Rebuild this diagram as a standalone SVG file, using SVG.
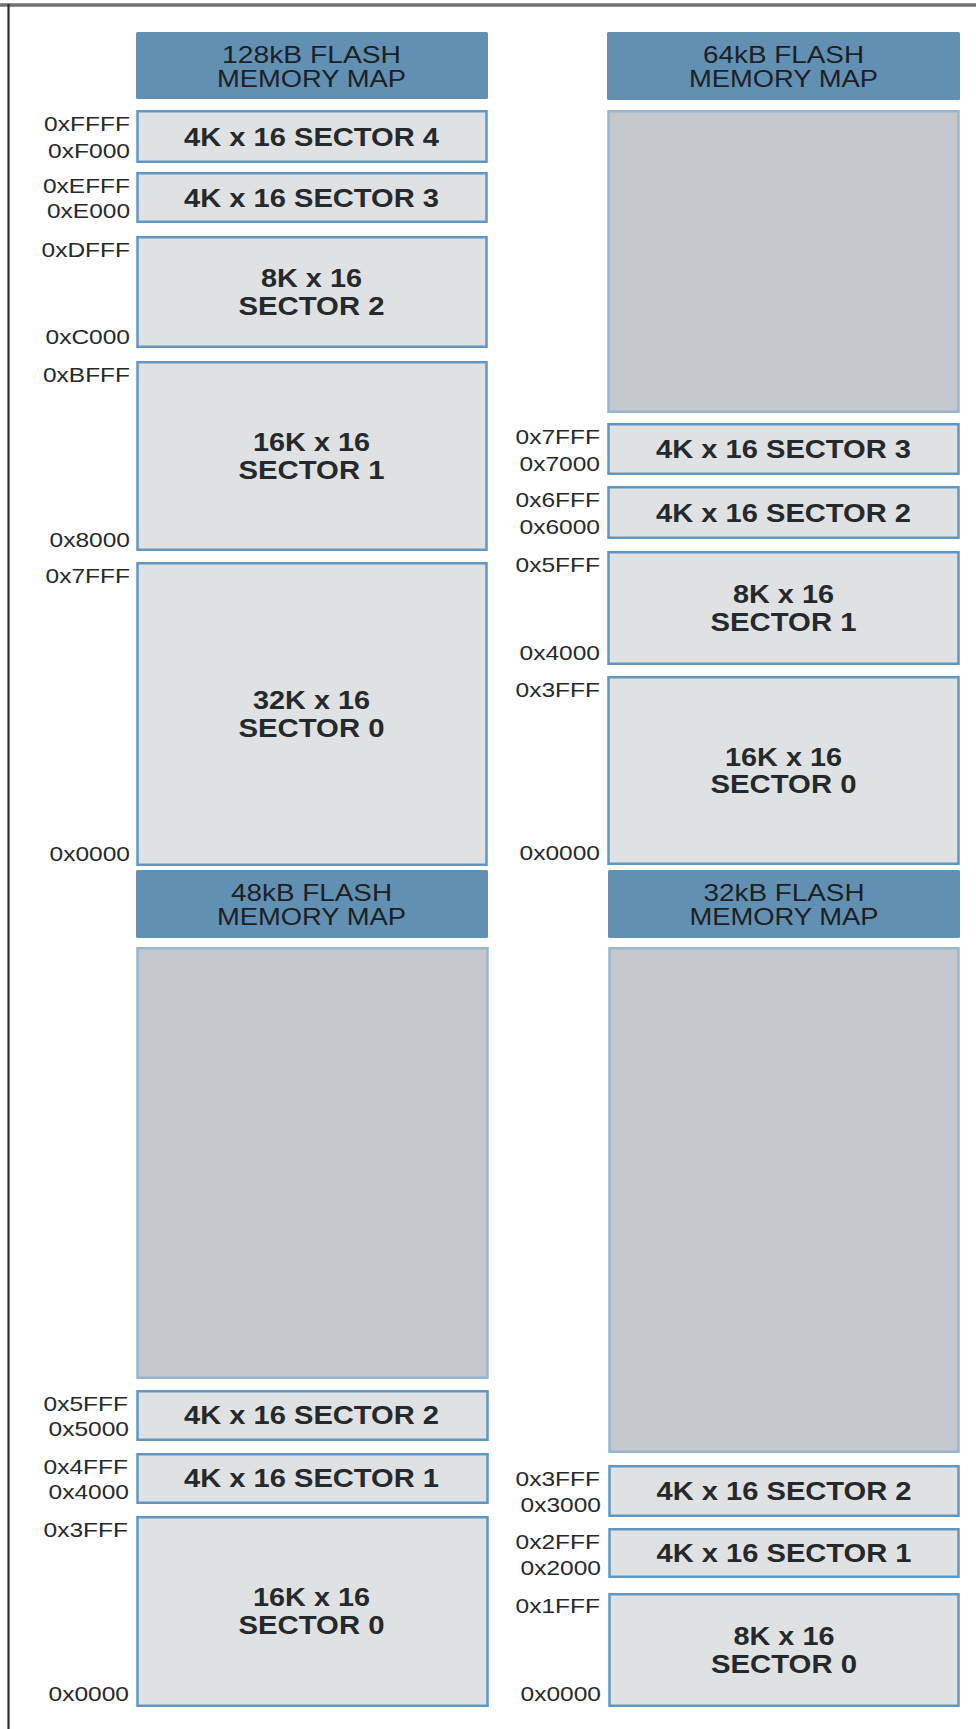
<svg xmlns="http://www.w3.org/2000/svg" width="976" height="1729" viewBox="0 0 976 1729">
<style>
  text { font-family: "Liberation Sans", Arial, Helvetica, sans-serif; fill: #26292c; }
  .hdr { fill: #6190b2; }
  .ht { font-size: 24px; text-anchor: middle; fill: #1c2126; }
  .sec { fill: #e0e1e3; stroke: #5f97c2; stroke-width: 2.5; }
  .res { fill: #c4c7cb; stroke: #97b7d1; stroke-width: 2.5; }
  .st { font-size: 25px; font-weight: bold; text-anchor: middle; }
  .ad { font-size: 21px; text-anchor: end; }
</style>
<rect width="976" height="1729" fill="#ffffff"/>
<g id="frame">
  <line x1="0" y1="5" x2="976" y2="5" stroke="#727272" stroke-width="3.5"/>
  <line x1="8.5" y1="4" x2="8.5" y2="1729" stroke="#303030" stroke-width="2.2"/>
</g>
<g id="connectors"/>

<!-- 128kB map -->
<g id="hdr128">
  <rect class="hdr" x="136" y="32" width="352" height="67" rx="1.5"/>
  <text class="ht" x="311.5" y="62.5" textLength="179" lengthAdjust="spacingAndGlyphs">128kB FLASH</text>
  <text class="ht" x="311.5" y="86.5" textLength="189" lengthAdjust="spacingAndGlyphs">MEMORY MAP</text>
</g>
<g id="m128_s4">
  <rect class="sec" x="137.5" y="111.25" width="349" height="50.5"/>
  <text class="st" x="311.5" y="145.5" textLength="255" lengthAdjust="spacingAndGlyphs">4K x 16 SECTOR 4</text>
  <text class="ad" x="130" y="130.5" textLength="86" lengthAdjust="spacingAndGlyphs">0xFFFF</text>
  <text class="ad" x="130" y="158" textLength="82" lengthAdjust="spacingAndGlyphs">0xF000</text>
</g>
<g id="m128_s3">
  <rect class="sec" x="137.5" y="173.25" width="349" height="48.5"/>
  <text class="st" x="311.5" y="206.5" textLength="255" lengthAdjust="spacingAndGlyphs">4K x 16 SECTOR 3</text>
  <text class="ad" x="130" y="192.5" textLength="87" lengthAdjust="spacingAndGlyphs">0xEFFF</text>
  <text class="ad" x="130" y="218" textLength="83" lengthAdjust="spacingAndGlyphs">0xE000</text>
</g>
<g id="m128_s2">
  <rect class="sec" x="137.5" y="237.25" width="349" height="109.5"/>
  <text class="st" x="311.5" y="287" textLength="101" lengthAdjust="spacingAndGlyphs">8K x 16</text>
  <text class="st" x="311.5" y="314.5" textLength="146" lengthAdjust="spacingAndGlyphs">SECTOR 2</text>
  <text class="ad" x="130" y="256.5" textLength="88.5" lengthAdjust="spacingAndGlyphs">0xDFFF</text>
  <text class="ad" x="130" y="344" textLength="84.5" lengthAdjust="spacingAndGlyphs">0xC000</text>
</g>
<g id="m128_s1">
  <rect class="sec" x="137.5" y="362.25" width="349" height="187.5"/>
  <text class="st" x="311.5" y="451" textLength="117" lengthAdjust="spacingAndGlyphs">16K x 16</text>
  <text class="st" x="311.5" y="478.5" textLength="146" lengthAdjust="spacingAndGlyphs">SECTOR 1</text>
  <text class="ad" x="130" y="381.5" textLength="87" lengthAdjust="spacingAndGlyphs">0xBFFF</text>
  <text class="ad" x="130" y="546.5" textLength="80.5" lengthAdjust="spacingAndGlyphs">0x8000</text>
</g>
<g id="m128_s0">
  <rect class="sec" x="137.5" y="563.25" width="349" height="301.5"/>
  <text class="st" x="311.5" y="709" textLength="117" lengthAdjust="spacingAndGlyphs">32K x 16</text>
  <text class="st" x="311.5" y="736.5" textLength="146" lengthAdjust="spacingAndGlyphs">SECTOR 0</text>
  <text class="ad" x="130" y="582.5" textLength="84.5" lengthAdjust="spacingAndGlyphs">0x7FFF</text>
  <text class="ad" x="130" y="860.5" textLength="80.5" lengthAdjust="spacingAndGlyphs">0x0000</text>
</g>

<!-- 64kB map -->
<g id="hdr64">
  <rect class="hdr" x="607" y="32" width="353" height="68" rx="1.5"/>
  <text class="ht" x="783.5" y="62.5" textLength="161" lengthAdjust="spacingAndGlyphs">64kB FLASH</text>
  <text class="ht" x="783.5" y="86.5" textLength="189" lengthAdjust="spacingAndGlyphs">MEMORY MAP</text>
</g>
<g id="m64_res">
  <rect class="res" x="608.5" y="111.25" width="350" height="300.5"/>
</g>
<g id="m64_s3">
  <rect class="sec" x="608.5" y="424.25" width="350" height="49.5"/>
  <text class="st" x="783.5" y="458" textLength="255" lengthAdjust="spacingAndGlyphs">4K x 16 SECTOR 3</text>
  <text class="ad" x="600" y="443.5" textLength="84.5" lengthAdjust="spacingAndGlyphs">0x7FFF</text>
  <text class="ad" x="600" y="470.5" textLength="80.5" lengthAdjust="spacingAndGlyphs">0x7000</text>
</g>
<g id="m64_s2">
  <rect class="sec" x="608.5" y="487.25" width="350" height="50.5"/>
  <text class="st" x="783.5" y="521.5" textLength="255" lengthAdjust="spacingAndGlyphs">4K x 16 SECTOR 2</text>
  <text class="ad" x="600" y="506.5" textLength="84.5" lengthAdjust="spacingAndGlyphs">0x6FFF</text>
  <text class="ad" x="600" y="534" textLength="80.5" lengthAdjust="spacingAndGlyphs">0x6000</text>
</g>
<g id="m64_s1">
  <rect class="sec" x="608.5" y="552.25" width="350" height="111.5"/>
  <text class="st" x="783.5" y="603" textLength="101" lengthAdjust="spacingAndGlyphs">8K x 16</text>
  <text class="st" x="783.5" y="630.5" textLength="146" lengthAdjust="spacingAndGlyphs">SECTOR 1</text>
  <text class="ad" x="600" y="571.5" textLength="84.5" lengthAdjust="spacingAndGlyphs">0x5FFF</text>
  <text class="ad" x="600" y="659.5" textLength="80.5" lengthAdjust="spacingAndGlyphs">0x4000</text>
</g>
<g id="m64_s0">
  <rect class="sec" x="608.5" y="677.25" width="350" height="186.5"/>
  <text class="st" x="783.5" y="765.5" textLength="117" lengthAdjust="spacingAndGlyphs">16K x 16</text>
  <text class="st" x="783.5" y="793" textLength="146" lengthAdjust="spacingAndGlyphs">SECTOR 0</text>
  <text class="ad" x="600" y="696.5" textLength="84.5" lengthAdjust="spacingAndGlyphs">0x3FFF</text>
  <text class="ad" x="600" y="860" textLength="80.5" lengthAdjust="spacingAndGlyphs">0x0000</text>
</g>

<!-- 48kB map -->
<g id="hdr48">
  <rect class="hdr" x="136" y="870" width="352" height="68" rx="1.5"/>
  <text class="ht" x="311.5" y="900.5" textLength="161" lengthAdjust="spacingAndGlyphs">48kB FLASH</text>
  <text class="ht" x="311.5" y="924.5" textLength="189" lengthAdjust="spacingAndGlyphs">MEMORY MAP</text>
</g>
<g id="m48_res">
  <rect class="res" x="137.5" y="948.25" width="350" height="429.5"/>
</g>
<g id="m48_s2">
  <rect class="sec" x="137.5" y="1391.25" width="350" height="48.5"/>
  <text class="st" x="311.5" y="1424" textLength="255" lengthAdjust="spacingAndGlyphs">4K x 16 SECTOR 2</text>
  <text class="ad" x="128" y="1411" textLength="84.5" lengthAdjust="spacingAndGlyphs">0x5FFF</text>
  <text class="ad" x="129" y="1435.5" textLength="80.5" lengthAdjust="spacingAndGlyphs">0x5000</text>
</g>
<g id="m48_s1">
  <rect class="sec" x="137.5" y="1454.25" width="350" height="48.5"/>
  <text class="st" x="311.5" y="1487" textLength="255" lengthAdjust="spacingAndGlyphs">4K x 16 SECTOR 1</text>
  <text class="ad" x="128" y="1473.5" textLength="84.5" lengthAdjust="spacingAndGlyphs">0x4FFF</text>
  <text class="ad" x="129" y="1498.5" textLength="80.5" lengthAdjust="spacingAndGlyphs">0x4000</text>
</g>
<g id="m48_s0">
  <rect class="sec" x="137.5" y="1517.25" width="350" height="188.5"/>
  <text class="st" x="311.5" y="1606" textLength="117" lengthAdjust="spacingAndGlyphs">16K x 16</text>
  <text class="st" x="311.5" y="1633.5" textLength="146" lengthAdjust="spacingAndGlyphs">SECTOR 0</text>
  <text class="ad" x="128" y="1536.5" textLength="84.5" lengthAdjust="spacingAndGlyphs">0x3FFF</text>
  <text class="ad" x="129" y="1701" textLength="80.5" lengthAdjust="spacingAndGlyphs">0x0000</text>
</g>

<!-- 32kB map -->
<g id="hdr32">
  <rect class="hdr" x="608" y="870" width="352" height="68" rx="1.5"/>
  <text class="ht" x="784" y="900.5" textLength="161" lengthAdjust="spacingAndGlyphs">32kB FLASH</text>
  <text class="ht" x="784" y="924.5" textLength="189" lengthAdjust="spacingAndGlyphs">MEMORY MAP</text>
</g>
<g id="m32_res">
  <rect class="res" x="609.5" y="948.25" width="349" height="503.5"/>
</g>
<g id="m32_s2">
  <rect class="sec" x="609.5" y="1466.25" width="349" height="49.5"/>
  <text class="st" x="784" y="1500" textLength="255" lengthAdjust="spacingAndGlyphs">4K x 16 SECTOR 2</text>
  <text class="ad" x="600" y="1486" textLength="84.5" lengthAdjust="spacingAndGlyphs">0x3FFF</text>
  <text class="ad" x="601" y="1512" textLength="80.5" lengthAdjust="spacingAndGlyphs">0x3000</text>
</g>
<g id="m32_s1">
  <rect class="sec" x="609.5" y="1529.25" width="349" height="47.5"/>
  <text class="st" x="784" y="1562" textLength="255" lengthAdjust="spacingAndGlyphs">4K x 16 SECTOR 1</text>
  <text class="ad" x="600" y="1548.5" textLength="84.5" lengthAdjust="spacingAndGlyphs">0x2FFF</text>
  <text class="ad" x="601" y="1574.5" textLength="80.5" lengthAdjust="spacingAndGlyphs">0x2000</text>
</g>
<g id="m32_s0">
  <rect class="sec" x="609.5" y="1594.25" width="349" height="111.5"/>
  <text class="st" x="784" y="1645" textLength="101" lengthAdjust="spacingAndGlyphs">8K x 16</text>
  <text class="st" x="784" y="1672.5" textLength="146" lengthAdjust="spacingAndGlyphs">SECTOR 0</text>
  <text class="ad" x="600" y="1612.5" textLength="84.5" lengthAdjust="spacingAndGlyphs">0x1FFF</text>
  <text class="ad" x="601" y="1701" textLength="80.5" lengthAdjust="spacingAndGlyphs">0x0000</text>
</g>
</svg>
